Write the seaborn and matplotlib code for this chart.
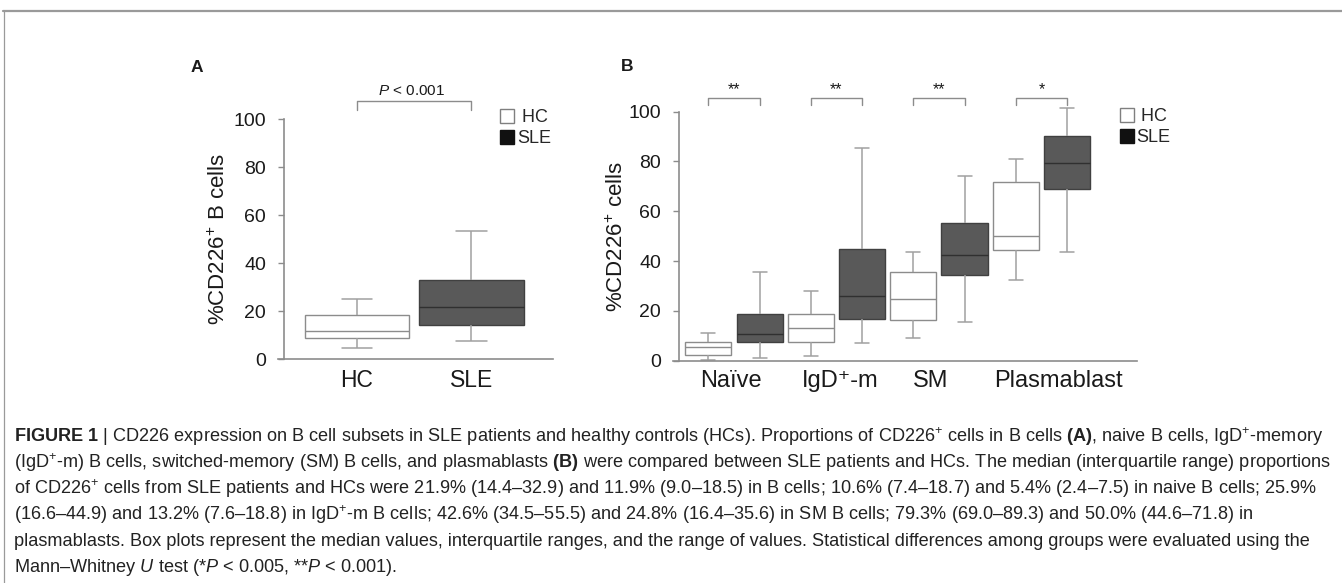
import numpy as np
import pandas as pd
import matplotlib
matplotlib.use("Agg")
import matplotlib.pyplot as plt
import seaborn as sns
from matplotlib.patches import Patch
from matplotlib.lines import Line2D
from matplotlib import font_manager as fm

# ---------------- data (five-number summaries: min, Q1, median, Q3, max) ----------------
groups_a = ["HC", "SLE"]
hc_b_cells = [4.6, 9.0, 11.9, 18.5, 25.0]
sle_b_cells = [7.6, 14.4, 21.9, 32.9, 53.6]
p_text_a = "$\\mathit{P}$ < 0.001"

subset_keys = ["Naive", "IgD-m", "SM", "Plasmablast"]
subset_labels = ["Naïve", "IgD\u207a-m", "SM", "Plasmablast"]
hc_subsets = [
    [0.3, 2.4, 5.4, 7.5, 11.0],
    [1.8, 7.6, 13.2, 18.8, 27.8],
    [9.1, 16.4, 24.8, 35.6, 43.8],
    [32.6, 44.6, 50.0, 71.8, 81.0],
]
sle_subsets = [
    [1.2, 7.4, 10.6, 18.7, 35.6],
    [7.0, 16.6, 25.9, 44.9, 85.6],
    [15.5, 34.5, 42.6, 55.5, 74.2],
    [43.6, 69.0, 79.3, 90.3, 101.3],
]
stars_b = ["**", "**", "**", "*"]
yticks = [0, 20, 40, 60, 80, 100]

caption_lines = [
    "$\\mathbf{FIGURE\\ 1}$ | CD226 expression on B cell subsets in SLE patients and healthy controls (HCs). Proportions of CD226$^{+}$ cells in B cells $\\mathbf{(A)}$, naive B cells, IgD$^{+}$-memory",
    "(IgD$^{+}$-m) B cells, switched-memory (SM) B cells, and plasmablasts $\\mathbf{(B)}$ were compared between SLE patients and HCs. The median (interquartile range) proportions",
    "of CD226$^{+}$ cells from SLE patients and HCs were 21.9% (14.4–32.9) and 11.9% (9.0–18.5) in B cells; 10.6% (7.4–18.7) and 5.4% (2.4–7.5) in naive B cells; 25.9%",
    "(16.6–44.9) and 13.2% (7.6–18.8) in IgD$^{+}$-m B cells; 42.6% (34.5–55.5) and 24.8% (16.4–35.6) in SM B cells; 79.3% (69.0–89.3) and 50.0% (44.6–71.8) in",
    "plasmablasts. Box plots represent the median values, interquartile ranges, and the range of values. Statistical differences among groups were evaluated using the",
    "Mann–Whitney $\\mathit{U}$ test (*$\\mathit{P}$ < 0.005, **$\\mathit{P}$ < 0.001).",
]

# ---------------- style ----------------
sns.set_style("white")

def has_font(name):
    try:
        fm.findfont(fm.FontProperties(family=name), fallback_to_default=False)
        return True
    except Exception:
        return False

cap_font = "Liberation Sans Narrow" if has_font("Liberation Sans Narrow") else "Liberation Sans"
plt.rcParams["font.family"] = ["Liberation Sans", "DejaVu Sans"]
plt.rcParams["mathtext.fontset"] = "custom"
plt.rcParams["mathtext.rm"] = "Liberation Sans"
plt.rcParams["mathtext.it"] = "Liberation Sans:italic"
plt.rcParams["mathtext.bf"] = "Liberation Sans:bold"

AX_COL = "#8c8c8c"
TXT = "#1a1a1a"
HC_EDGE = "#8c8c8c"
SLE_FACE = "#595959"
SLE_EDGE = "#404040"
SLE_MED = "#303030"
WHISK = "#a0a0a0"

W, H = 1342, 583
fig = plt.figure(figsize=(W / 100, H / 100), dpi=100)


def px_axes(left, right, top_px, bottom_px):
    return fig.add_axes([left / W, 1 - bottom_px / H, (right - left) / W, (bottom_px - top_px) / H])


def long_df(names, summaries, key="group"):
    rows = []
    for n, s in zip(names, summaries):
        for v in s:
            rows.append({key: n, "value": v})
    return pd.DataFrame(rows)


def style_containers(ax):
    for cont in ax.containers:
        boxes = getattr(cont, "boxes", [])
        if not boxes:
            continue
        fc = boxes[0].get_facecolor()
        is_hc = fc[0] > 0.9
        for b in boxes:
            if is_hc:
                b.set_facecolor("white")
                b.set_edgecolor(HC_EDGE)
            else:
                b.set_facecolor(SLE_FACE)
                b.set_edgecolor(SLE_EDGE)
            b.set_linewidth(1.0)
        for m in cont.medians:
            m.set_color(HC_EDGE if is_hc else SLE_MED)
            m.set_linewidth(1.0)
        for w in list(cont.whiskers) + list(cont.caps):
            w.set_color(WHISK)
            w.set_linewidth(1.1)
    for art in list(ax.patches) + list(ax.lines):
        art.set_clip_on(False)


def style_axis(ax, ylabel, label_x):
    sns.despine(ax=ax)
    for sp in ["left", "bottom"]:
        ax.spines[sp].set_color(AX_COL)
        ax.spines[sp].set_linewidth(1.2)
    ax.spines["left"].set_position(("outward", -6 * 72 / 100))
    ax.set_ylim(0, 100)
    ax.set_yticks(yticks)
    ax.tick_params(axis="y", left=True, length=4, width=1, color=AX_COL, pad=9,
                   labelsize=14, labelcolor=TXT, direction="out")
    ax.tick_params(axis="x", bottom=False, length=0, pad=7, labelcolor=TXT)
    ax.set_ylabel(ylabel, fontsize=16, color=TXT)
    ax.yaxis.label.set_va("center")
    ax.yaxis.set_label_coords(label_x, 0.5)
    ax.set_xlabel("")
    ax.set_facecolor("none")


# ---------------- panel A ----------------
axA = px_axes(278, 553, 119.3, 359.3)
df_a = long_df(groups_a, [hc_b_cells, sle_b_cells])
sns.boxplot(data=df_a, x="group", y="value", hue="group", order=groups_a, hue_order=groups_a,
            palette={"HC": "white", "SLE": SLE_FACE}, saturation=1, dodge=False,
            width=0.91, whis=(0, 100), linewidth=1.0, linecolor=HC_EDGE,
            capwidths=0.27, legend=False, ax=axA)
style_containers(axA)
style_axis(axA, "%CD226$^{+}$ B cells", -0.2145)
axA.set_xlim(-0.69, 1.712)
axA.set_xticks([0, 1])
axA.set_xticklabels(groups_a, fontsize=16.5)

# bracket A
axA.plot([0, 0, 1, 1], [103.9, 107.8, 107.8, 103.9], color=AX_COL, lw=1.0, clip_on=False)
axA.text(0.48, 111.8, p_text_a, ha="center", va="center", fontsize=11, color=TXT, clip_on=False)
axA.text(-(357 - 196.7) / 114.5, (359.3 - 67) / 2.4, "A", fontsize=12.5, fontweight="bold",
         ha="center", va="center", color=TXT, clip_on=False)

legA_handles = [Patch(facecolor="white", edgecolor="#7f7f7f", lw=1.0, label=" HC"),
                Patch(facecolor="#111111", edgecolor="#111111", lw=1.0, label="SLE")]
fig.legend(handles=legA_handles, loc="upper left", bbox_to_anchor=(500 / W, 1 - 109 / H),
           frameon=False, fontsize=13, handlelength=0.78, handleheight=0.78,
           handletextpad=0.15, labelspacing=0.22, borderpad=0, borderaxespad=0)

# ---------------- panel B ----------------
axB = px_axes(673, 1136.7, 111.7, 360.7)
rows = []
for key, hc, sle in zip(subset_keys, hc_subsets, sle_subsets):
    for v in hc:
        rows.append({"subset": key, "group": "HC", "value": v})
    for v in sle:
        rows.append({"subset": key, "group": "SLE", "value": v})
df_b = pd.DataFrame(rows)
sns.boxplot(data=df_b, x="subset", y="value", hue="group", order=subset_keys,
            hue_order=groups_a, palette={"HC": "white", "SLE": SLE_FACE}, saturation=1,
            width=1.0, gap=0.1, whis=(0, 100), linewidth=1.0, linecolor=HC_EDGE,
            capwidths=0.137, legend=False, ax=axB)
style_containers(axB)
style_axis(axB, "%CD226$^{+}$ cells", -0.1208)
axB.set_xlim(-0.595, 3.93)
axB.set_xticks([-0.03, 1.04, 1.92, 3.17])
axB.set_xticklabels(subset_labels, fontsize=17)

for i, s in enumerate(stars_b):
    axB.plot([i - 0.25, i - 0.25, i + 0.25, i + 0.25], [102.7, 105.4, 105.4, 102.7],
             color=AX_COL, lw=1.0, clip_on=False)
    axB.text(i, 108.8, s, ha="center", va="center", fontsize=11.5, color=TXT, clip_on=False)
axB.text(-(734 - 626.7) / 102.5, (360.7 - 66.7) / 2.49, "B", fontsize=12.5, fontweight="bold",
         ha="center", va="center", color=TXT, clip_on=False)

legB_handles = [Patch(facecolor="white", edgecolor="#7f7f7f", lw=1.0, label=" HC"),
                Patch(facecolor="#111111", edgecolor="#111111", lw=1.0, label="SLE")]
fig.legend(handles=legB_handles, loc="upper left", bbox_to_anchor=(1119.5 / W, 1 - 108 / H),
           frameon=False, fontsize=13, handlelength=0.78, handleheight=0.78,
           handletextpad=0.15, labelspacing=0.22, borderpad=0, borderaxespad=0)

# ---------------- frame lines ----------------
fig.add_artist(Line2D([3 / W, 1], [1 - 10.5 / H, 1 - 10.5 / H], color="#9a9a9a", lw=1.6,
                      transform=fig.transFigure))
fig.add_artist(Line2D([3.5 / W, 3.5 / W], [0, 1 - 10.5 / H], color="#9a9a9a", lw=0.9,
                      transform=fig.transFigure))

# ---------------- caption ----------------
plt.rcParams["mathtext.rm"] = cap_font
plt.rcParams["mathtext.it"] = cap_font + ":italic"
plt.rcParams["mathtext.bf"] = cap_font + ":bold"
baselines = [442, 468, 494, 520, 546, 572]
cap_texts = []
for line, yb in zip(caption_lines, baselines):
    t = fig.text(14 / W, 1 - yb / H, line, ha="left", va="baseline", fontsize=10,
                 family=cap_font, color="#222222")
    cap_texts.append(t)
renderer = fig.canvas.get_renderer()
w2 = cap_texts[1].get_window_extent(renderer).width
fs = 10 * 1314 / w2
for t in cap_texts:
    t.set_fontsize(fs)

fig.savefig("out.png", dpi=100)
